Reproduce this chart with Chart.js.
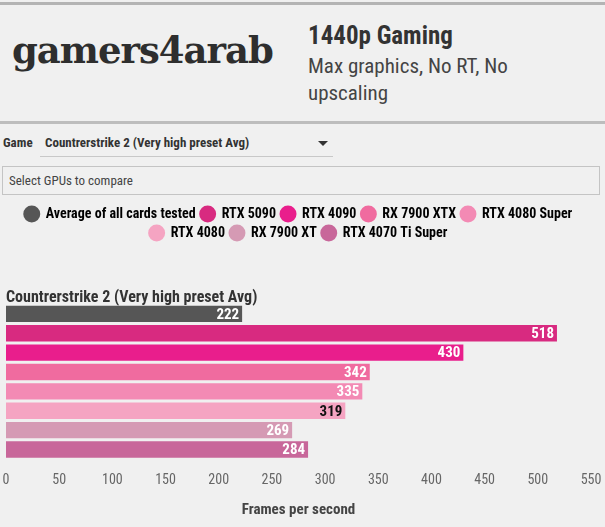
<!DOCTYPE html>
<html>
<head>
<meta charset="utf-8">
<script src="https://cdn.jsdelivr.net/npm/chart.js@4"></script>
<style>
  html, body { margin: 0; padding: 0; }
  body {
    width: 605px; height: 527px; overflow: hidden; position: relative;
    background: #f0f0f0;
    font-family: "Roboto Condensed", "Liberation Sans Narrow", "DejaVu Sans Condensed", sans-serif;
    color: #333;
  }
  .topline { position: absolute; left: 0; top: 2px; width: 605px; height: 3px; background: #b4b4b4; }
  .botline { position: absolute; left: 0; top: 121px; width: 605px; height: 3px; background: #bdbdbd; }
  .logo {
    position: absolute; left: 12px; top: 28px;
    font-family: "DejaVu Serif", serif; font-weight: bold; font-size: 37px;
    letter-spacing: -1px; color: #2e2e2e;
  }
  .head1 { position: absolute; left: 308px; top: 21px; font-size: 25px; font-weight: bold; color: #333; }
  .head2 { position: absolute; left: 308px; top: 53px; width: 240px; font-size: 21px; line-height: 27px; color: #444; }
  .gamelbl { position: absolute; left: 3px; top: 135px; font-size: 13px; font-weight: bold; }
  .gamesel {
    position: absolute; left: 40px; top: 135px; width: 293px; height: 21px;
    border-bottom: 1px solid #c8c8c8; font-size: 13px; font-weight: bold;
  }
  .gamesel span { margin-left: 5px; }
  .arrow {
    position: absolute; right: 5px; top: 6px; width: 0; height: 0;
    border-left: 5px solid transparent; border-right: 5px solid transparent; border-top: 5px solid #333;
  }
  .gpusel {
    position: absolute; left: 2px; top: 166px; width: 598px; height: 29px;
    border: 1px solid #c4c4c4; box-sizing: border-box; font-size: 13px; line-height: 27px;
    padding-left: 6px; color: #444;
  }
  .wrap { position: absolute; left: 0; top: 198px; width: 605px; height: 329px; }
</style>
</head>
<body>
<div class="topline"></div>
<div class="logo">gamers4arab</div>
<div class="head1">1440p Gaming</div>
<div class="head2">Max graphics, No RT, No upscaling</div>
<div class="botline"></div>
<div class="gamelbl">Game</div>
<div class="gamesel"><span>Countrerstrike 2 (Very high preset Avg)</span><div class="arrow"></div></div>
<div class="gpusel">Select GPUs to compare</div>
<div class="wrap"><canvas id="fps-canvas"></canvas></div>
<script>
var FONT = '"Roboto Condensed", "Liberation Sans Narrow", "DejaVu Sans Condensed", sans-serif';

var gpus = ['Average of all cards tested', 'RTX 5090', 'RTX 4090', 'RX 7900 XTX',
            'RTX 4080 Super', 'RTX 4080', 'RX 7900 XT', 'RTX 4070 Ti Super'];
var fps = [222, 518, 430, 342, 335, 319, 269, 284];
var barColors = ['#565656', '#d82a80', '#e91e8c', '#f06b9f',
                 '#f38ab4', '#f5a4c2', '#d59ab4', '#c8679a'];
var labelColors = ['#fff', '#fff', '#fff', '#fff', '#fff', '#111', '#fff', '#fff'];
var xTicks = [0, 50, 100, 150, 200, 250, 300, 350, 400, 450, 500, 550];

// value labels drawn at the end of each bar
var barValues = {
  id: 'barValues',
  afterDatasetsDraw: function(chart) {
    var ctx = chart.ctx;
    var meta = chart.getDatasetMeta(0);
    ctx.save();
    ctx.font = 'bold 15px ' + FONT;
    ctx.textAlign = 'right';
    ctx.textBaseline = 'middle';
    meta.data.forEach(function(bar, i) {
      ctx.fillStyle = labelColors[i];
      ctx.fillText(fps[i], bar.x - 3, bar.y + 1);
    });
    ctx.restore();
  }
};

var ctx = document.getElementById('fps-canvas').getContext('2d');
var chartObj = new Chart(ctx, {
  type: 'bar',
  data: {
    labels: gpus,
    datasets: [{
      data: fps,
      backgroundColor: barColors,
      borderWidth: 0,
      barPercentage: 0.85,
      categoryPercentage: 1
    }]
  },
  options: {
    indexAxis: 'y',
    responsive: true,
    maintainAspectRatio: false,
    animation: false,
    layout: { padding: { left: 6, right: 14, top: 4, bottom: 4 } },
    plugins: {
      tooltip: { enabled: false },
      legend: {
        position: 'top',
        weight: 3000,
        labels: {
          usePointStyle: true,
          pointStyle: 'circle',
          boxHeight: 12,
          padding: 5,
          color: '#333',
          font: { family: FONT, size: 14, weight: 'bold' },
          generateLabels: function(chart) {
            return gpus.map(function(name, i) {
              return { text: name, fillStyle: barColors[i], strokeStyle: barColors[i],
                       lineWidth: 0, pointStyle: 'circle', index: i, hidden: false };
            });
          }
        }
      },
      title: {
        display: true,
        text: 'Countrerstrike 2 (Very high preset Avg)',
        align: 'start',
        color: '#333',
        font: { family: FONT, size: 16, weight: 'bold' },
        padding: { top: 38, bottom: -3 }
      }
    },
    scales: {
      x: {
        min: 0,
        max: 550,
        grid: { display: false },
        border: { display: false },
        afterBuildTicks: function(scale) {
          scale.ticks = xTicks.map(function(v) { return { value: v }; });
        },
        afterFit: function(scale) {
          scale.paddingLeft = 0;
          scale.paddingRight = 0;
        },
        ticks: { color: '#666', padding: 5, font: { family: FONT, size: 14 } },
        title: {
          display: true,
          text: 'Frames per second',
          color: '#444',
          padding: { top: 7 },
          font: { family: FONT, size: 15, weight: 'bold' }
        }
      },
      y: {
        display: false
      }
    }
  },
  plugins: [barValues]
});
</script>
</body>
</html>
